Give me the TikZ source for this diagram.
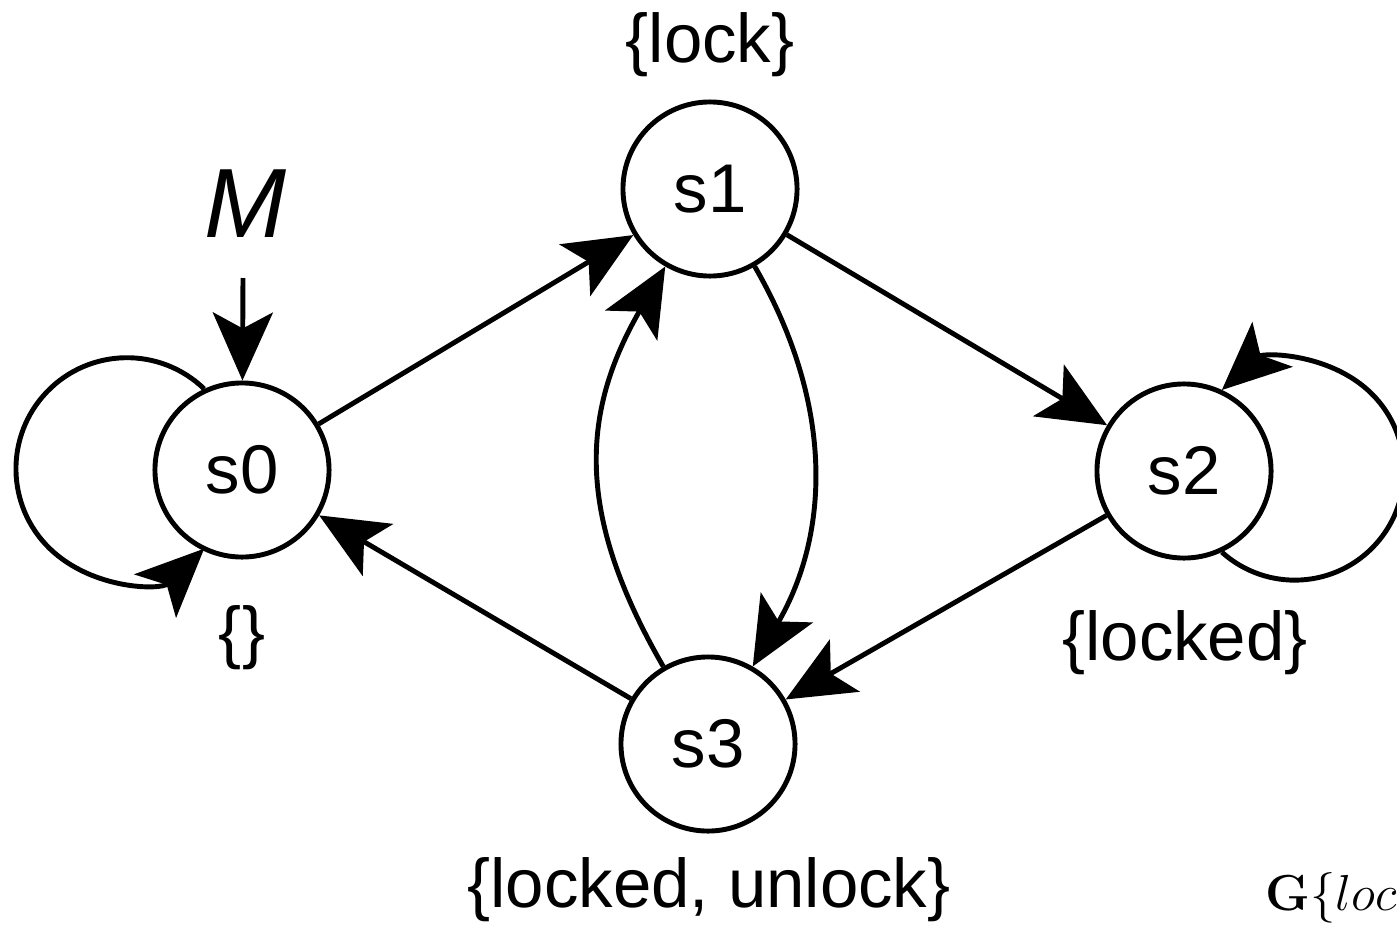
\documentclass[tikz,border=0pt]{standalone}
\usepackage[no-math]{fontspec}
\setmainfont{Liberation Sans}
\usetikzlibrary{arrows.meta}

\begin{document}
\begin{tikzpicture}[x=0.01cm, y=0.01cm, line width=1.4pt,
		state/.style={draw, circle, minimum size=1.74cm, inner sep=0pt, font=\fontsize{19.6}{22}\selectfont},
		lbl/.style={anchor=base, inner sep=0pt, font=\fontsize{19.6}{22}\selectfont},
		edge/.style={-{Stealth[length=0.68cm, width=0.6cm, inset=0.16cm]}}]
		\useasboundingbox (0,0) rectangle (1397,-924);
		\node[state] (s0) at (242,-470) {s0};
		\node[state] (s1) at (710,-189) {s1};
		\node[state] (s2) at (1184,-471) {s2};
		\node[state] (s3) at (708,-744) {s3};
		\node[lbl, font=\fontsize{28}{32}\selectfont\itshape] (m) at (246,-237) {M};
		\coordinate (init) at (243,-278);
		\node[lbl] (l1) at (710,-62) {\{lock\}};
		\node[lbl] (l0) at (242,-655) {\{\}};
		\node[lbl] (l2) at (1185,-660) {\{locked\}};
		\node[lbl] (l3) at (709,-907) {\{locked, unlock\}};
		\node[anchor=base west, inner sep=0pt, font=\fontsize{15.5}{18}\selectfont] (goal) at (1263,-910) {$\mathbf{G}\{loc$};
		\draw[edge] (init) -- (s0);
		\draw[edge] (s0.115) arc[start angle=46, end angle=314, radius=1.11cm];
		\draw[edge] (s2.295) arc[start angle=228, end angle=492, radius=1.09cm];
		\draw[edge] (s0) -- (s1);
		\draw[edge] (s1) -- (s2);
		\draw[edge] (s2) -- (s3);
		\draw[edge] (s3) -- (s0);
		\draw[edge] (s1) to[out=-60, in=60] (s3);
		\draw[edge] (s3) to[out=120, in=-120, looseness=1.1] (s1);
	\end{tikzpicture}
\end{document}
